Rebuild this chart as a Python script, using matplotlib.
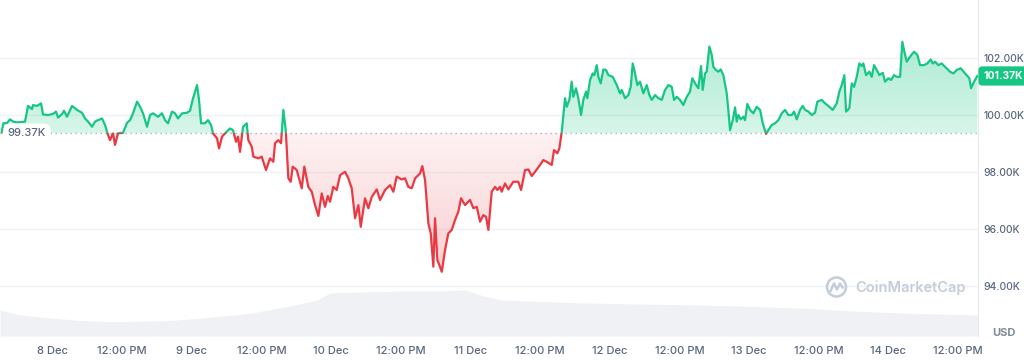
import numpy as np
import matplotlib
matplotlib.use('Agg')
import matplotlib.pyplot as plt
from matplotlib.path import Path
from matplotlib.patches import Rectangle, Circle
from matplotlib.colors import to_rgba
import matplotlib.transforms as mtransforms

plt.rcParams['font.family'] = ['Inter', 'DejaVu Sans']

# BTC price, 7 days (hours since 8 Dec 00:00, price in thousands USD)
hours = [
    -8.75, -8.48, -7.84, -7.32, -6.81, -6.12, -4.74, -4.22, -3.53, -3.36,
    -2.67, -1.98, -1.64, -0.77, 0.09, 0.60, 0.95, 1.64, 1.98, 2.50,
    3.36, 4.22, 5.08, 5.60, 6.12, 6.81, 7.32, 7.84, 8.53, 9.05,
    9.56, 9.91, 10.42, 10.77, 11.28, 12.15, 12.84, 13.35, 13.87, 14.56,
    15.08, 15.59, 16.28, 16.80, 17.32, 18.18, 18.87, 19.38, 19.90, 20.59,
    21.11, 21.62, 22.31, 23.17, 23.69, 24.21, 24.90, 25.24, 25.59, 26.27,
    26.79, 27.31, 27.65, 28.34, 28.69, 29.20, 29.72, 30.58, 31.10, 31.62,
    31.96, 32.30, 32.82, 33.46, 33.73, 34.32, 34.60, 35.46, 36.04, 36.78,
    37.47, 38.04, 38.33, 38.90, 39.37, 39.76, 40.18, 40.63, 41.04, 41.38,
    42.07, 42.94, 43.38, 44.07, 44.66, 45.23, 45.80, 46.38, 46.95, 47.42,
    47.81, 48.38, 48.96, 49.54, 50.40, 50.96, 51.55, 52.12, 52.69, 53.10,
    53.84, 54.41, 55.00, 55.86, 56.43, 57.29, 58.15, 58.72, 59.30, 60.16,
    60.73, 61.30, 61.89, 62.46, 63.32, 63.71, 64.18, 64.75, 65.16, 65.61,
    65.90, 66.30, 66.64, 67.06, 67.62, 68.19, 68.78, 69.35, 69.92, 70.38,
    71.07, 71.93, 72.50, 73.09, 73.66, 74.22, 74.69, 75.09, 75.67, 76.24,
    76.64, 77.10, 77.39, 77.96, 78.53, 79.39, 80.25, 80.72, 81.41, 81.98,
    82.56, 83.13, 83.99, 84.56, 85.14, 86.01, 86.40, 86.97, 87.32, 87.73,
    88.01, 88.30, 88.59, 89.04, 89.45, 89.73, 90.19, 90.59, 91.06, 91.45,
    91.92, 92.14, 92.61, 93.07, 93.35, 93.76, 94.04, 94.45, 94.90, 95.36,
    95.76, 96.52, 97.21, 97.78, 98.07, 98.64, 99.20, 99.62, 99.96, 100.36,
    100.76, 101.22, 101.79, 102.38, 102.82, 103.24, 103.81, 104.38, 104.96, 105.53,
    106.10, 106.68, 107.08, 107.54, 108.11, 108.68, 109.27, 109.83, 110.23, 110.70,
    111.26, 111.73, 112.02, 112.42, 112.71, 113.16, 113.57, 113.85, 114.31, 114.71,
    115.12, 115.57, 116.16, 116.43, 116.73, 117.19, 117.59, 117.88, 118.16, 118.57,
    119.02, 119.31, 119.71, 120.17, 120.74, 121.33, 121.90, 122.36, 122.93, 123.33,
    123.91, 124.48, 125.05, 125.63, 126.20, 126.77, 127.36, 127.75, 128.22, 128.79,
    129.25, 129.65, 130.22, 130.81, 131.37, 131.77, 132.53, 133.09, 133.66, 134.42,
    135.11, 135.56, 135.97, 136.42, 136.71, 137.28, 137.69, 138.09, 138.56, 139.00,
    139.42, 139.69, 140.16, 140.73, 141.14, 141.54, 142.00, 142.45, 143.04, 143.43,
    144.00, 144.47, 144.98, 145.45, 146.02, 146.41, 146.76, 147.17, 147.74, 148.43,
    149.00, 149.46, 150.15, 150.72, 151.30, 151.65, 152.05, 152.62, 153.20, 153.77,
    154.63, 155.20, 155.79, 156.47, 157.22, 157.96, 158.25, 158.77, 159.34,
]
price = [
    99.40, 99.71, 99.72, 99.85, 99.77, 99.74, 99.77, 100.32, 100.21, 100.35,
    100.32, 100.41, 100.02, 100.00, 100.04, 100.12, 99.91, 100.04, 100.15, 99.94,
    100.32, 100.18, 100.08, 99.88, 99.77, 99.59, 99.77, 99.82, 99.88, 99.65,
    99.30, 99.12, 99.36, 98.95, 99.36, 99.38, 99.73, 99.82, 100.06, 100.47,
    100.29, 100.06, 99.59, 100.00, 100.06, 99.94, 100.06, 99.82, 99.71, 100.12,
    100.06, 99.88, 100.06, 100.08, 100.15, 100.59, 101.05, 100.53, 99.71, 99.71,
    99.82, 99.65, 99.36, 99.18, 98.83, 99.24, 99.36, 99.53, 99.47, 99.06,
    99.24, 98.71, 99.59, 99.71, 99.12, 98.89, 98.54, 98.48, 98.54, 98.07,
    98.48, 98.36, 99.01, 99.12, 99.01, 100.18, 99.47, 97.78, 97.66, 98.19,
    98.07, 97.43, 98.19, 97.48, 97.31, 96.84, 96.46, 97.25, 96.78, 97.16,
    96.96, 97.48, 97.37, 97.89, 98.01, 97.78, 97.43, 96.38, 96.84, 96.08,
    97.08, 96.73, 97.13, 97.39, 97.02, 97.37, 97.54, 97.31, 97.84, 97.74,
    97.78, 97.48, 97.43, 97.78, 97.95, 98.21, 97.72, 96.20, 95.85, 94.68,
    96.38, 94.91, 94.74, 94.50, 95.26, 95.85, 95.97, 96.32, 96.61, 97.08,
    96.84, 97.02, 96.73, 96.78, 96.26, 96.49, 96.43, 95.97, 97.31, 97.48,
    97.37, 97.48, 97.31, 97.60, 97.39, 97.66, 97.66, 97.37, 98.07, 98.09,
    97.86, 98.01, 98.25, 98.42, 98.36, 98.25, 98.77, 98.66, 98.83, 99.41,
    100.00, 100.59, 100.29, 100.53, 101.17, 100.64, 100.94, 100.59, 100.00, 100.53,
    100.82, 100.59, 101.23, 101.46, 101.40, 101.75, 101.34, 101.11, 101.60, 101.58,
    101.40, 101.34, 101.05, 100.76, 100.88, 100.59, 100.70, 100.99, 101.81, 101.46,
    101.05, 101.17, 100.76, 101.05, 100.70, 100.53, 100.70, 100.59, 100.53, 100.88,
    101.05, 100.99, 100.53, 100.64, 100.53, 100.35, 100.64, 100.82, 101.29, 101.11,
    100.94, 101.72, 100.88, 101.46, 101.52, 102.40, 102.11, 101.69, 101.58, 101.52,
    101.60, 101.40, 100.75, 100.18, 99.47, 99.82, 100.27, 99.77, 100.00, 99.85,
    99.94, 99.82, 100.39, 100.18, 100.06, 100.29, 100.18, 99.71, 99.34, 99.47,
    99.65, 99.71, 99.82, 100.06, 100.18, 100.00, 100.00, 100.12, 99.85, 100.18,
    100.32, 100.18, 100.12, 100.00, 100.08, 100.47, 100.53, 100.41, 100.32, 100.18,
    100.41, 100.82, 101.05, 101.40, 100.12, 100.24, 101.11, 100.99, 101.34, 101.81,
    101.72, 101.81, 101.40, 101.52, 101.34, 101.75, 101.58, 101.40, 101.48, 101.17,
    101.29, 101.23, 101.40, 101.34, 101.34, 102.57, 102.22, 101.87, 102.05, 102.22,
    102.11, 101.75, 101.75, 101.81, 101.95, 101.81, 101.87, 101.75, 101.81, 101.69,
    101.52, 101.46, 101.58, 101.64, 101.46, 101.29, 100.94, 101.17, 101.37,
]

# 24h volume (billions USD)
vol_hours = [-9.05, -5.6, -0.43, 5.25, 9.9, 19.7, 25.4, 34.0, 40.9, 45.6, 47.8, 53.0,
             59.9, 66.8, 71.1, 73.7, 77.1, 91.4, 111.6, 128.8, 140.3, 151.7, 159.45]
volume = [39, 31.5, 27, 23, 21.5, 23, 26.5, 34, 45, 54, 64.5, 66,
          67.5, 67.5, 69, 61.5, 54, 49.5, 46.5, 42, 36.5, 33, 31.5]

open_price = 99.37
last_price = 101.37

y_ticks = [94, 96, 98, 100, 102]
y_labels = ['94.00K', '96.00K', '98.00K', '100.00K', '102.00K']
x_ticks = [0, 12, 24, 36, 48, 60, 72, 84, 96, 108, 120, 132, 144, 156]
x_labels = ['8 Dec', '12:00 PM', '9 Dec', '12:00 PM', '10 Dec', '12:00 PM', '11 Dec',
            '12:00 PM', '12 Dec', '12:00 PM', '13 Dec', '12:00 PM', '14 Dec', '12:00 PM']

GREEN = '#16c784'
RED = '#ea3943'
GREY = '#58667e'
GRID = '#eff2f5'

x0, x1 = -9.05, 159.45
y0, y1 = 92.25, 104.035

fig = plt.figure(figsize=(10.24, 3.61), dpi=100)
pos = [0, 0.0693, 0.9551, 0.9307]

# volume underneath
axv = fig.add_axes(pos, zorder=0)
axv.fill_between(vol_hours, volume, 0, color='#eff1f5', lw=0)
axv.set_xlim(x0, x1)
axv.set_ylim(0, 504)
axv.axis('off')

ax = fig.add_axes(pos, zorder=1)
ax.set_facecolor('none')

hrs = np.array(hours)
pr = np.array(price)


def gradient_fill(where, color, lo, hi, a_lo, a_hi):
    coll = ax.fill_between(hrs, pr, open_price, where=where, interpolate=True,
                           facecolor='none', edgecolor='none')
    path = Path.make_compound_path(*coll.get_paths())
    rgba = np.zeros((256, 1, 4))
    rgba[..., :3] = to_rgba(color)[:3]
    rgba[:, 0, 3] = np.linspace(a_lo, a_hi, 256)
    im = ax.imshow(rgba, extent=(x0, x1, lo, hi), origin='lower',
                   aspect='auto', zorder=1, interpolation='bilinear')
    im.set_clip_path(path, ax.transData)


gradient_fill(pr >= open_price, GREEN, open_price, pr.max(), 0.17, 0.36)
gradient_fill(pr <= open_price, RED, pr.min(), open_price, 0.24, 0.07)

# line: green above the open, red below
up, = ax.plot(hrs, pr, color=GREEN, lw=1.6, zorder=3, solid_joinstyle='round')
dn, = ax.plot(hrs, pr, color=RED, lw=1.6, zorder=3, solid_joinstyle='round')
up.set_clip_path(Rectangle((x0, open_price), x1 - x0, 20, transform=ax.transData))
dn.set_clip_path(Rectangle((x0, open_price - 20), x1 - x0, 20, transform=ax.transData))

ax.axhline(open_price, color='#a6b0c3', lw=1, linestyle=(0, (1, 2.6)), zorder=2)

ax.set_xlim(x0, x1)
ax.set_ylim(y0, y1)
ax.set_yticks(y_ticks, y_labels)
ax.set_xticks(x_ticks, x_labels)
ax.yaxis.tick_right()
ax.tick_params(axis='y', length=0, pad=4, labelsize=7.4, labelcolor=GREY)
ax.tick_params(axis='x', length=0, pad=7, labelsize=8, labelcolor=GREY)
for lab in ax.get_xticklabels() + ax.get_yticklabels():
    lab.set_fontweight('medium')
ax.grid(axis='y', color=GRID, lw=1)
ax.set_axisbelow(True)
for s in ['top', 'left', 'bottom']:
    ax.spines[s].set_visible(False)
ax.spines['right'].set_color('#e6e9ee')

blend = mtransforms.blended_transform_factory(ax.transAxes, ax.transData)
ax.text(0.008, open_price, '99.37K', transform=blend, ha='left', va='center',
        fontsize=8, color=GREY, fontweight='medium', zorder=5,
        bbox=dict(boxstyle='round,pad=0.4,rounding_size=0.6', fc='white', ec='none'))
ax.text(1.0051, last_price, '101.37K', transform=blend, ha='left', va='center',
        fontsize=7.4, color='white', fontweight='bold', zorder=5, clip_on=False,
        bbox=dict(boxstyle='round,pad=0.45,rounding_size=0.4', fc=GREEN, ec='none'))

fig.text(1004 / 1024, 1 - 333 / 361, 'USD', ha='center', va='center',
         fontsize=8, fontweight='bold', color='#808a9d')

# watermark
wm = '#c6ccd8'
fig.text(855 / 1024, 1 - 288 / 361, 'CoinMarketCap', ha='left', va='center',
         fontsize=10.5, fontweight='semibold', color=wm, zorder=2)
cx, cy, r = 8.365, 0.74, 0.095
fig.patches.append(Circle((cx, cy), r, transform=fig.dpi_scale_trans,
                          fill=False, ec=wm, lw=1.8, zorder=2))
wx = [cx - 0.06, cx - 0.025, cx + 0.005, cx + 0.035, cx + 0.06]
wy = [cy - 0.04, cy + 0.035, cy - 0.025, cy + 0.035, cy - 0.005]
fig.lines.append(plt.Line2D(wx, wy, transform=fig.dpi_scale_trans, color=wm,
                            lw=1.8, solid_joinstyle='round', zorder=2))

fig.savefig('out.png', dpi=100)
